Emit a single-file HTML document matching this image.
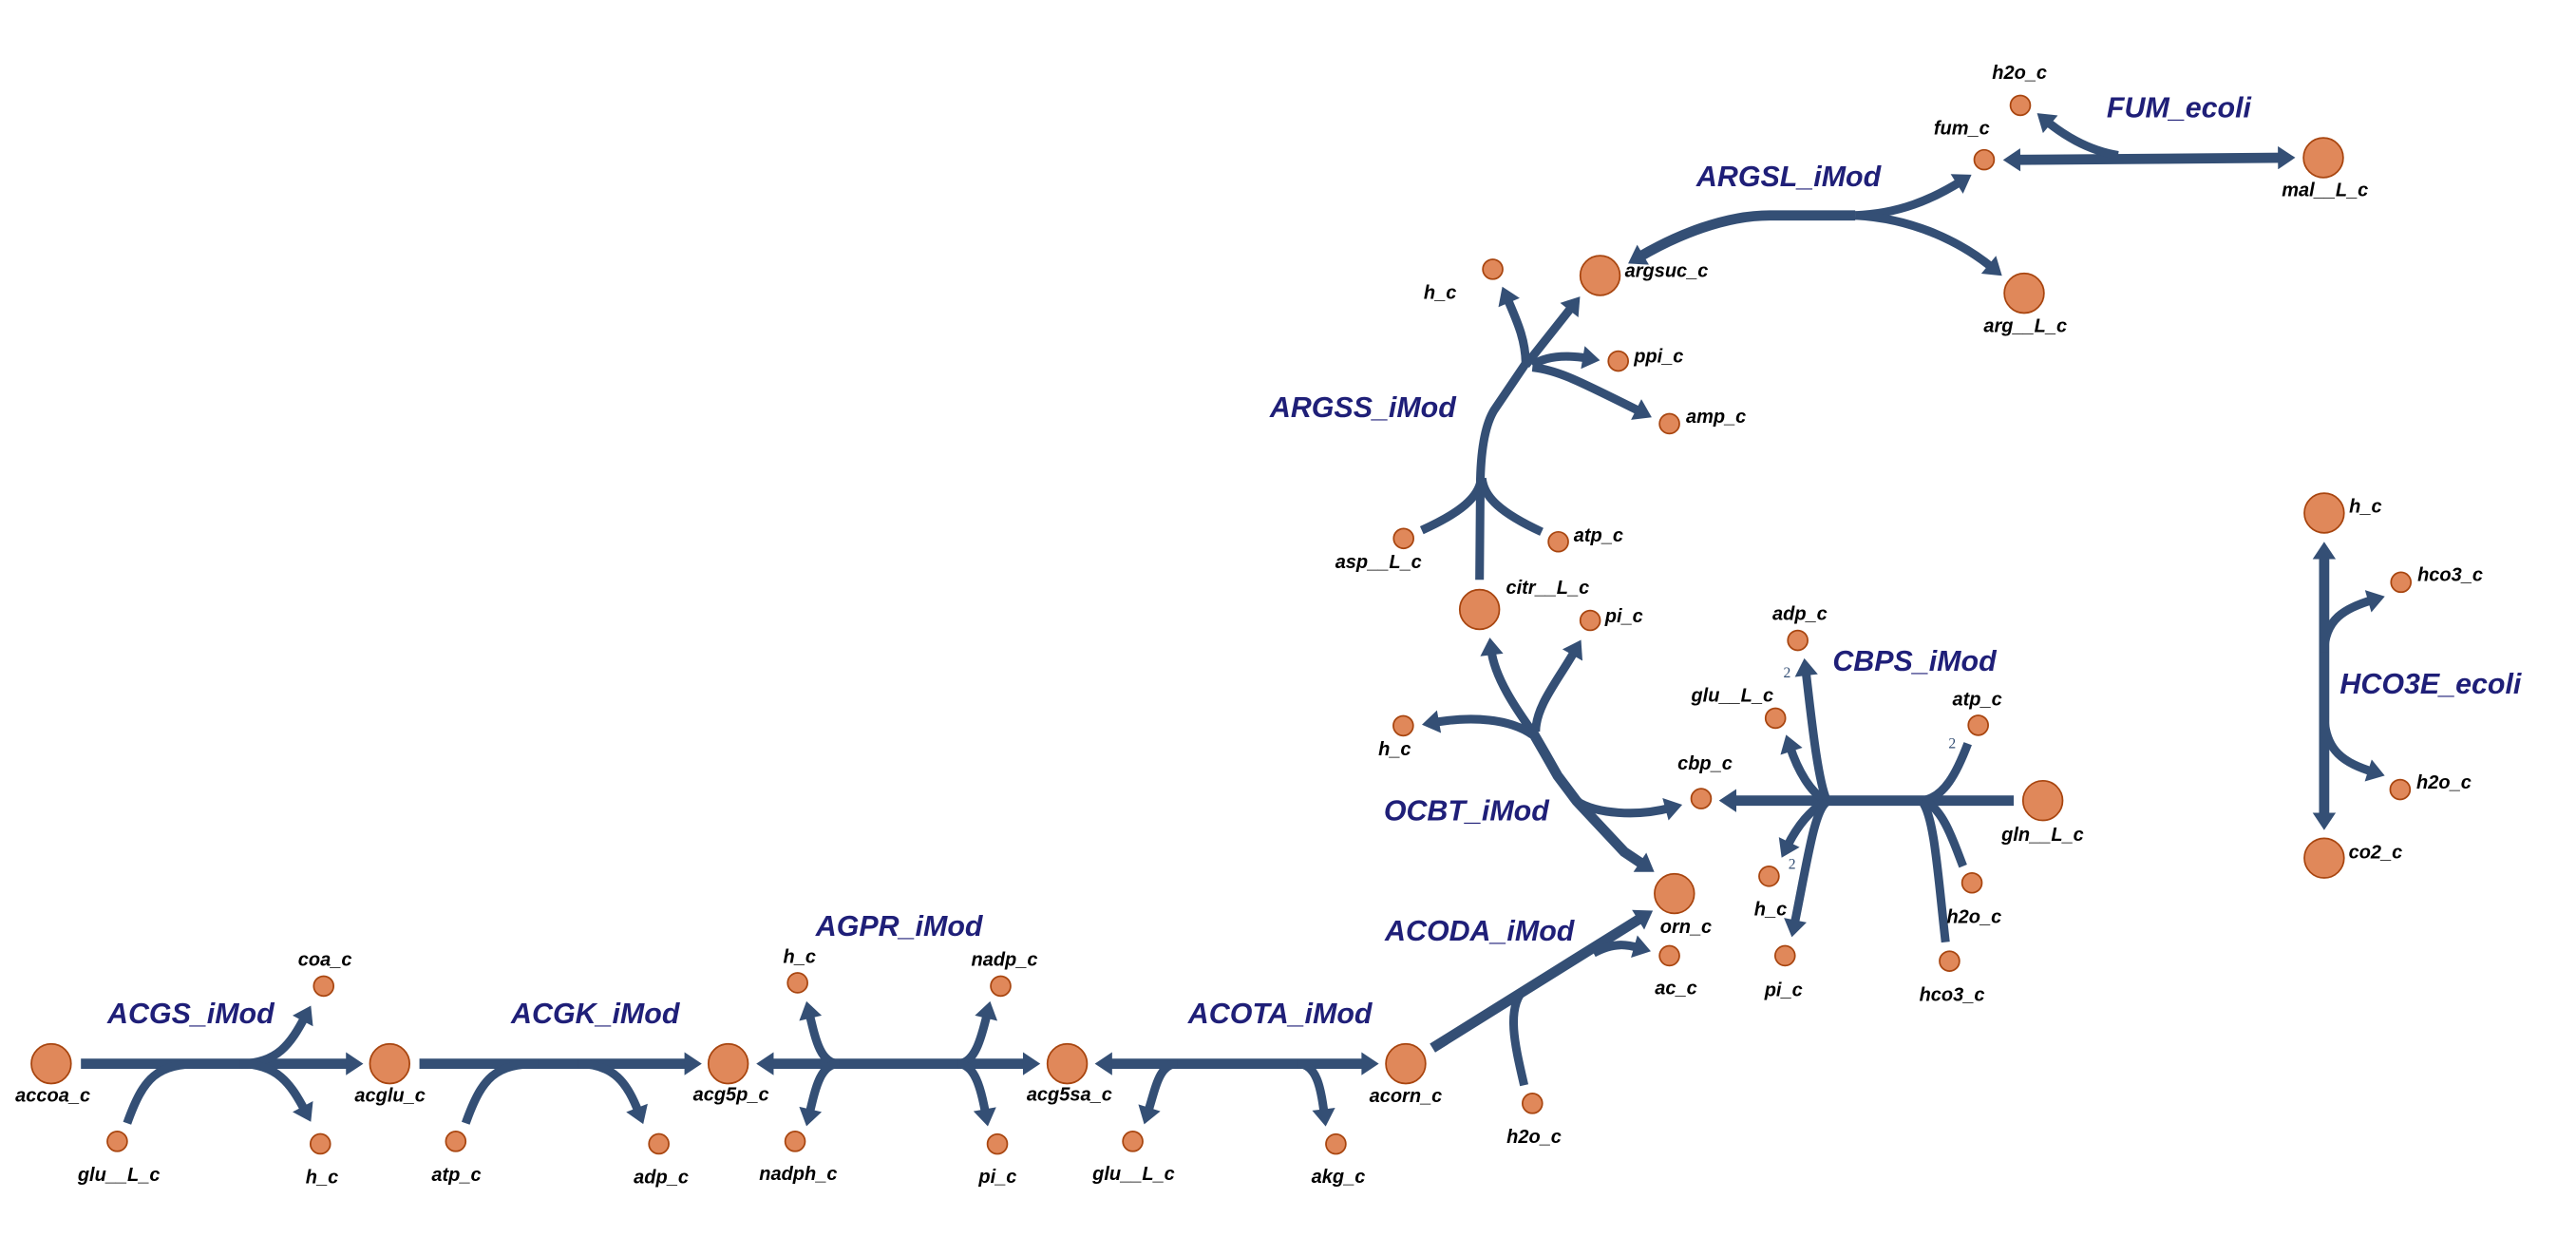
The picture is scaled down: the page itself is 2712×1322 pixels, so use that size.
<!DOCTYPE html>
<html><head><meta charset="utf-8"><style>
html,body{margin:0;padding:0;background:#fff;}
svg{display:block;}
.e{fill:none;stroke:#344f75;stroke-width:5.2;}
.m{stroke-width:6.2;}
.a{marker-end:url(#ar);}
.b{marker-start:url(#ars);marker-end:url(#ar);}
.n{fill:#e0885a;stroke:#a8450f;stroke-width:1;}
.t{font-family:"Liberation Sans",Arial,sans-serif;font-weight:bold;font-style:italic;font-size:11.5px;fill:#000;}
.r{font-family:"Liberation Sans",Arial,sans-serif;font-weight:bold;font-style:italic;font-size:17.5px;fill:#1f1f78;}
.s{font-family:"Liberation Serif",serif;font-size:9px;fill:#344f75;}
</style></head><body>
<svg width="2712" height="1322" viewBox="0 0 1560 760.4" preserveAspectRatio="none" xmlns="http://www.w3.org/2000/svg">
<defs>
<marker id="ar" markerUnits="userSpaceOnUse" markerWidth="14" markerHeight="14" refX="3" refY="6" orient="auto" viewBox="0 0 9 12"><path d="M0,0 L9,6 L0,12 z" fill="#344f75"/></marker>
<marker id="ars" markerUnits="userSpaceOnUse" markerWidth="14" markerHeight="14" refX="3" refY="6" orient="auto-start-reverse" viewBox="0 0 9 12"><path d="M0,0 L9,6 L0,12 z" fill="#344f75"/></marker>
</defs>

<!-- ACGS -->
<path class="e m a" d="M49,644 L213,644"/>
<path class="e" d="M77,680 C87,652 95,644 122,644 L145,644"/>
<path class="e a" d="M145,644 C168,644 176,632 185,615"/>
<path class="e a" d="M145,644 C168,644 176,656 185,673"/>
<!-- ACGK -->
<path class="e m a" d="M254,644 L418,644"/>
<path class="e" d="M282,680 C292,652 300,644 326,644"/>
<path class="e a" d="M350,644 C372,644 380,656 387,674"/>
<!-- AGPR -->
<path class="e m b" d="M465,644 L623,644"/>
<path class="e a" d="M508,644 C497,644 494,630 490,613"/>
<path class="e a" d="M580,644 C590,644 594,630 598,613"/>
<path class="e a" d="M508,644 C497,644 494,658 490,675"/>
<path class="e a" d="M580,644 C590,644 594,658 597,675"/>
<!-- ACOTA -->
<path class="e m b" d="M670,644 L828,644"/>
<path class="e a" d="M713,644 C702,644 700,658 695,674"/>
<path class="e a" d="M786,644 C797,644 800,658 802,675"/>
<!-- ACODA -->
<path class="e m a" d="M867.5,634.5 L995,555"/>
<path class="e" d="M923,657 C918,635 912,612 922,600"/>
<path class="e a" d="M965,577 C978,570 986,572 993,574"/>
<!-- OCBT -->
<path class="e a" d="M928,443 C918.4,429.5 905,410.3 903,393"/>
<path class="e a" d="M930,443 C930,427.5 943.3,412.2 954,393.5"/>
<path class="e a" d="M928,444.8 C914.6,435.2 891.6,433.3 868,437.5"/>
<path class="e m a" d="M928,443 L935.7,456.3 L943.3,469.7 L954.8,485 L983.6,515.7 L996,524"/>
<path class="e a" d="M954.8,485 C966.4,492.7 991.3,494.6 1012,489"/>
<!-- CBPS -->
<path class="e m a" d="M1219.5,484.7 L1048,484.7"/>
<path class="e a" d="M1106.3,484.7 C1100.6,471.6 1096.8,433.3 1093.5,405.5"/>
<path class="e a" d="M1104.4,484 C1096.8,479.3 1089.1,467.8 1083.8,451.5"/>
<path class="e a" d="M1104.4,485.5 C1096.8,490.8 1089.1,498.5 1082,513"/>
<path class="e a" d="M1106.3,485.5 C1098.7,490.8 1094.8,519.6 1086.5,560.5"/>
<path class="e" d="M1163.9,484.7 C1177.3,483.1 1185,467.8 1191.7,450.2"/>
<path class="e" d="M1165.8,485 C1177.3,490.8 1183.1,510 1188.8,524.4"/>
<path class="e" d="M1163.9,485 C1171.5,494.6 1173.5,529.2 1178.2,570.4"/>
<text class="s" x="1080" y="410">2</text>
<text class="s" x="1180" y="453">2</text>
<text class="s" x="1083" y="526">2</text>
<!-- ARGSS -->
<path class="e" d="M896,351 L896.5,290 C897,270 900,256 905,248 L924,220"/>
<path class="e" d="M861,321 C884,310.6 896,301 897,289.5"/>
<path class="e" d="M933.6,322 C909,310.6 898.5,301 897.5,289.5"/>
<path class="e a" d="M924,221 C924,205 918,193 912.5,180"/>
<path class="e a" d="M924,221 L952.5,185"/>
<path class="e a" d="M928,221 C937,215 950,215 962,217"/>
<path class="e a" d="M928,222.4 C943,224 955,230 994,249.5"/>
<!-- ARGSL -->
<path class="e m a" d="M1123.5,130.4 L1071.7,130.4 C1045,130.4 1016,141.9 992,156"/>
<path class="e a" d="M1123.5,130.4 C1150,129.4 1170,120.8 1188,109.5"/>
<path class="e a" d="M1123.5,130.4 C1160,132.3 1189,147.6 1207,162.5"/>
<!-- FUM -->
<path class="e m b" d="M1220,96.8 L1383,95.5"/>
<path class="e a" d="M1282.7,94 C1263.5,91 1248,80.5 1239,73"/>
<!-- HCO3E -->
<path class="e m b" d="M1407.5,335 L1407.5,495.6"/>
<path class="e a" d="M1407.5,395 C1407.5,375 1420,368 1437.5,363"/>
<path class="e a" d="M1407.5,432 C1407.5,455 1420,462 1437.5,467.5"/>

<!-- nodes -->
<circle class="n" cx="31" cy="644" r="12"/>
<circle class="n" cx="71" cy="691" r="6"/>
<circle class="n" cx="196" cy="597" r="6"/>
<circle class="n" cx="194" cy="692.5" r="6"/>
<circle class="n" cx="236" cy="644" r="12"/>
<circle class="n" cx="276" cy="691" r="6"/>
<circle class="n" cx="399" cy="692.5" r="6"/>
<circle class="n" cx="441" cy="644" r="12"/>
<circle class="n" cx="483" cy="595" r="6"/>
<circle class="n" cx="606" cy="597" r="6"/>
<circle class="n" cx="481.5" cy="691" r="6"/>
<circle class="n" cx="604" cy="692.6" r="6"/>
<circle class="n" cx="646.3" cy="644" r="12"/>
<circle class="n" cx="686" cy="691" r="6"/>
<circle class="n" cx="809" cy="692.6" r="6"/>
<circle class="n" cx="851.3" cy="644" r="12"/>
<circle class="n" cx="928" cy="668" r="6"/>
<circle class="n" cx="1014" cy="541" r="12"/>
<circle class="n" cx="1011" cy="578.6" r="6"/>
<circle class="n" cx="896" cy="369" r="12"/>
<circle class="n" cx="963" cy="375.6" r="6"/>
<circle class="n" cx="849.8" cy="439.4" r="6"/>
<circle class="n" cx="1030.2" cy="483.5" r="6"/>
<circle class="n" cx="850" cy="326" r="6"/>
<circle class="n" cx="943.7" cy="328" r="6"/>
<circle class="n" cx="904" cy="163" r="6"/>
<circle class="n" cx="969" cy="166.8" r="12"/>
<circle class="n" cx="980" cy="218.6" r="6"/>
<circle class="n" cx="1011" cy="256.5" r="6"/>
<circle class="n" cx="1201.6" cy="96.7" r="6"/>
<circle class="n" cx="1223.5" cy="63.8" r="6"/>
<circle class="n" cx="1407" cy="95.5" r="12"/>
<circle class="n" cx="1225.8" cy="177.5" r="12"/>
<circle class="n" cx="1088.7" cy="387.7" r="6"/>
<circle class="n" cx="1075.2" cy="434.8" r="6"/>
<circle class="n" cx="1198" cy="439.1" r="6"/>
<circle class="n" cx="1237.1" cy="484.7" r="12"/>
<circle class="n" cx="1071.3" cy="530.5" r="6"/>
<circle class="n" cx="1081" cy="578.6" r="6"/>
<circle class="n" cx="1194.2" cy="534.5" r="6"/>
<circle class="n" cx="1180.6" cy="581.9" r="6"/>
<circle class="n" cx="1407.5" cy="310.6" r="12"/>
<circle class="n" cx="1454" cy="352.5" r="6"/>
<circle class="n" cx="1453.5" cy="478" r="6"/>
<circle class="n" cx="1407.5" cy="519.5" r="12"/>

<!-- node labels -->
<g class="t" text-anchor="middle">
<text x="32" y="667">accoa_c</text>
<text x="72" y="715">glu__L_c</text>
<text x="196.8" y="584.8">coa_c</text>
<text x="195" y="716.5">h_c</text>
<text x="236.2" y="667">acglu_c</text>
<text x="276.4" y="715">atp_c</text>
<text x="400.4" y="716.5">adp_c</text>
<text x="442.7" y="666.3">acg5p_c</text>
<text x="484.2" y="583">h_c</text>
<text x="608.3" y="584.8">nadp_c</text>
<text x="483.4" y="714.3">nadph_c</text>
<text x="604.2" y="716.2">pi_c</text>
<text x="647.6" y="666.3">acg5sa_c</text>
<text x="686.5" y="714.3">glu__L_c</text>
<text x="810.5" y="716.2">akg_c</text>
<text x="851.3" y="667.3">acorn_c</text>
<text x="929" y="692">h2o_c</text>
<text x="1015" y="602">ac_c</text>
<text x="1021" y="564.7">orn_c</text>
<text x="844.6" y="457.3">h_c</text>
<text x="1032.5" y="465.9">cbp_c</text>
<text x="1223" y="47.6">h2o_c</text>
<text x="1188" y="81.5">fum_c</text>
<text x="1226.5" y="201">arg__L_c</text>
<text x="1408" y="118.9">mal__L_c</text>
<text x="1090" y="375.4">adp_c</text>
<text x="1197.4" y="427.2">atp_c</text>
<text x="1237" y="509">gln__L_c</text>
<text x="1072.2" y="554.1">h_c</text>
<text x="1080.1" y="603">pi_c</text>
<text x="1195.5" y="558.9">h2o_c</text>
<text x="1182.1" y="605.9">hco3_c</text>
</g>
<g class="t" text-anchor="end">
<text x="882" y="181">h_c</text>
<text x="861" y="344">asp__L_c</text>
<text x="1074" y="424.7">glu__L_c</text>
</g>
<g class="t">
<text x="984" y="167.8">argsuc_c</text>
<text x="989.5" y="219.5">ppi_c</text>
<text x="1021" y="256">amp_c</text>
<text x="953" y="328">atp_c</text>
<text x="912" y="359.5">citr__L_c</text>
<text x="972" y="376.8">pi_c</text>
<text x="1422.6" y="310.2">h_c</text>
<text x="1464" y="351.8">hco3_c</text>
<text x="1463.4" y="477.4">h2o_c</text>
<text x="1422.3" y="519.6">co2_c</text>
</g>

<!-- reaction labels -->
<g class="r">
<text x="65" y="619.5">ACGS_iMod</text>
<text x="309.5" y="619.5">ACGK_iMod</text>
<text x="494" y="566.6">AGPR_iMod</text>
<text x="719.5" y="619.5">ACOTA_iMod</text>
<text x="838.7" y="569.5">ACODA_iMod</text>
<text x="838" y="496.6">OCBT_iMod</text>
<text x="1109.8" y="406.1">CBPS_iMod</text>
<text x="769" y="252.6">ARGSS_iMod</text>
<text x="1027.3" y="112.7">ARGSL_iMod</text>
<text x="1275.8" y="71">FUM_ecoli</text>
<text x="1417" y="420">HCO3E_ecoli</text>
</g>
</svg>
</body></html>
